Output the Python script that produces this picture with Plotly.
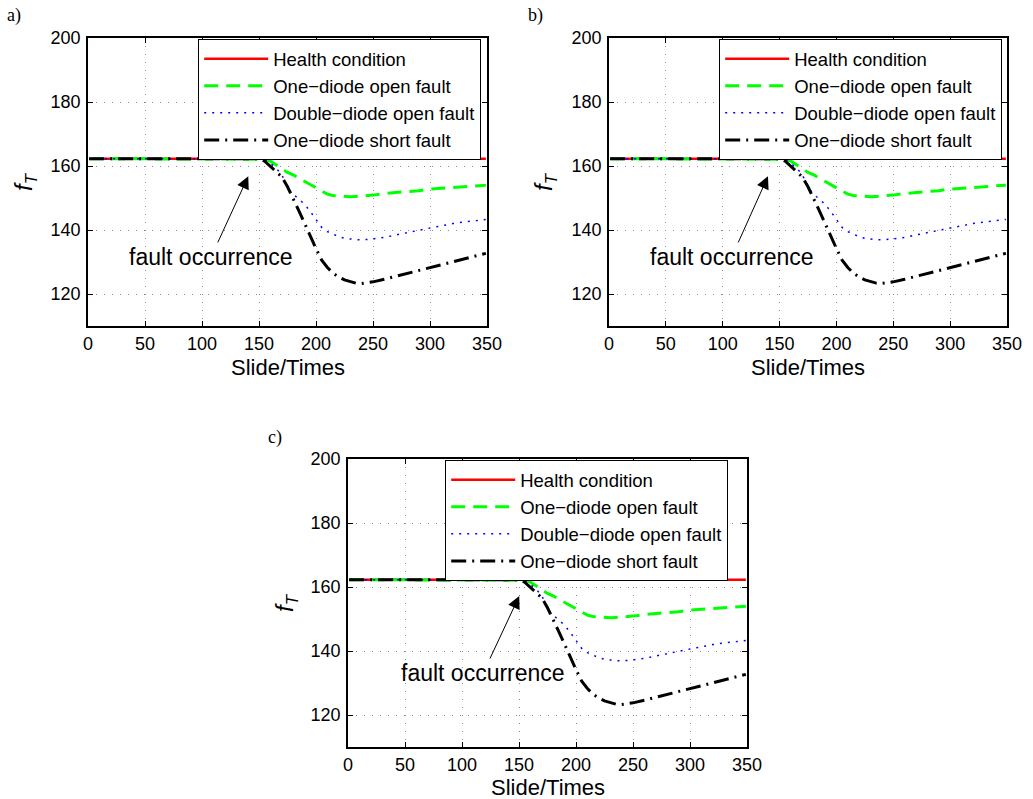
import plotly.graph_objects as go

# ---- data ----
slides = [1, 50, 100, 150, 155, 160, 165, 170, 175, 180, 185, 190, 195, 200,
          205, 210, 215, 220, 225, 230, 235, 240, 245, 250, 260, 270, 280,
          290, 300, 310, 320, 330, 340, 349]

health = [162.3, 162.3, 162.3, 162.3, 162.3, 162.3, 162.3, 162.3, 162.3, 162.3,
          162.3, 162.3, 162.3, 162.3, 162.3, 162.3, 162.3, 162.3, 162.3, 162.3,
          162.3, 162.3, 162.3, 162.3, 162.3, 162.3, 162.3, 162.3, 162.3, 162.3,
          162.3, 162.3, 162.3, 162.3]

one_open = [162.3, 162.3, 162.3, 162.3, 162.1, 161.5, 160.3, 159.0, 158.0, 157.2,
            156.2, 155.1, 154.0, 153.0, 152.0, 151.2, 150.8, 150.6, 150.5, 150.4,
            150.5, 150.6, 150.8, 150.9, 151.4, 151.7, 151.9, 152.3, 152.8, 153.0,
            153.3, 153.5, 153.8, 154.0]

double_open = [162.3, 162.3, 162.3, 162.3, 162.0, 160.8, 159.3, 157.3, 153.3, 151.1,
               149.7, 148.0, 145.8, 143.2, 140.8, 139.5, 138.6, 137.9, 137.4, 137.1,
               137.0, 136.9, 137.0, 137.2, 137.7, 138.5, 139.2, 139.9, 140.6, 141.4,
               142.0, 142.5, 142.9, 143.3]

one_short = [162.3, 162.3, 162.3, 162.3, 161.5, 159.8, 158.3, 156.6, 153.5, 149.9,
             146.0, 142.1, 138.0, 134.2, 130.6, 128.3, 126.5, 125.3, 124.4, 123.8,
             123.4, 123.3, 123.5, 123.8, 124.6, 125.5, 126.4, 127.2, 128.1, 129.0,
             129.9, 130.9, 131.9, 132.7]

series_names = ["Health condition", "One\u2212diode open fault",
                "Double\u2212diode open fault", "One\u2212diode short fault"]
x_ticks = [0, 50, 100, 150, 200, 250, 300, 350]
y_ticks = [120, 140, 160, 180, 200]
panel_labels = ["a)", "b)", "c)"]
x_title = "Slide/Times"
y_title = "<i>f</i><sub><i>T</i></sub>"
note = "fault occurrence"

# ---- styles ----
FONT = "Liberation Sans, Arial, sans-serif"
SERIF = "Liberation Serif, Times New Roman, serif"
styles = [
    dict(color="#ff0000", width=2.5, dash="solid"),
    dict(color="#00ff00", width=3, dash="14px,8px"),
    dict(color="#0000ff", width=1.5, dash="2px,6px"),
    dict(color="#000000", width=3, dash="15px,6px,2px,6px"),
]
values = [health, one_open, double_open, one_short]

W, H = 1033, 799
# pixel boxes of each plot area: (left, right, top, bottom)
boxes = [(88, 487, 38, 326), (609, 1007, 38, 326), (348, 747, 459, 747)]
legend_pos = [(198, 39), (719, 39), (445, 460)]
label_pos = [(14, 15), (535, 15), (275, 437)]
ytitle_x = [25, 545, 286]
xtitle_gap = [42, 42, 40]
ann_text = [(108, 131.6), (108, 131.6), (118.6, 133.1)]
ann_head = [(140.6, 156.8), (139.8, 156.8), (150.2, 157.2)]

fig = go.Figure()
layout = dict(width=W, height=H, autosize=False, template="none",
              margin=dict(l=0, r=0, t=0, b=0),
              paper_bgcolor="white", plot_bgcolor="white",
              font=dict(family=FONT, size=18, color="black"),
              annotations=[])

for i, (l, r, t, b) in enumerate(boxes):
    sfx = "" if i == 0 else str(i + 1)
    xa, ya = "x" + sfx, "y" + sfx
    lg = "legend" + sfx
    for name, vals, st in zip(series_names, values, styles):
        fig.add_trace(go.Scatter(x=slides, y=vals, mode="lines", name=name,
                                 line=st, xaxis=xa, yaxis=ya, legend=lg))
    axis_common = dict(showline=True, mirror="allticks", linecolor="black", linewidth=1.5,
                       ticks="inside", ticklen=5, tickcolor="black", tickwidth=1,
                       showgrid=True, gridcolor="#8a8a8a", griddash="1px,7px", gridwidth=1,
                       zeroline=False, tickfont=dict(size=18, family=FONT),
                       automargin=False)
    layout["xaxis" + sfx] = dict(axis_common, domain=[l / W, r / W], range=[0, 350],
                                 tickvals=x_ticks, anchor=ya, ticklabelstandoff=1)
    layout["yaxis" + sfx] = dict(axis_common, domain=[1 - b / H, 1 - t / H], range=[110, 200],
                                 tickvals=y_ticks, anchor=xa, ticklabelstandoff=2)
    lx, ly = legend_pos[i]
    layout[lg] = dict(x=lx / W, y=1 - ly / H, xanchor="left", yanchor="top",
                      xref="paper", yref="paper",
                      bgcolor="white", bordercolor="black", borderwidth=1.2,
                      font=dict(size=18.5, family=FONT), itemwidth=64,
                      tracegroupgap=0)
    px_, py_ = label_pos[i]
    anns = layout["annotations"]
    anns.append(dict(text=panel_labels[i], x=px_ / W, y=1 - py_ / H,
                     xref="paper", yref="paper", showarrow=False,
                     xanchor="center", yanchor="middle",
                     font=dict(family=SERIF, size=18)))
    # axis titles
    anns.append(dict(text=x_title, x=(l + r) / 2 / W, y=1 - (b + xtitle_gap[i]) / H,
                     xref="paper", yref="paper", showarrow=False,
                     xanchor="center", yanchor="middle",
                     font=dict(family=FONT, size=22)))
    anns.append(dict(text=y_title, x=ytitle_x[i] / W, y=1 - (t + b) / 2 / H,
                     xref="paper", yref="paper", showarrow=False, textangle=-90,
                     xanchor="center", yanchor="middle",
                     font=dict(family=FONT, size=24)))
    hx, hy = ann_head[i]
    tx, ty = ann_text[i]
    anns.append(dict(text=note, x=hx, y=hy, xref=xa, yref=ya,
                     ax=tx, ay=ty, axref=xa, ayref=ya, showarrow=True,
                     arrowhead=2, arrowsize=2.5, arrowwidth=1,
                     arrowcolor="black",
                     font=dict(size=23, family=FONT, color="black")))

fig.update_layout(**layout)
fig.write_html("out.html")
